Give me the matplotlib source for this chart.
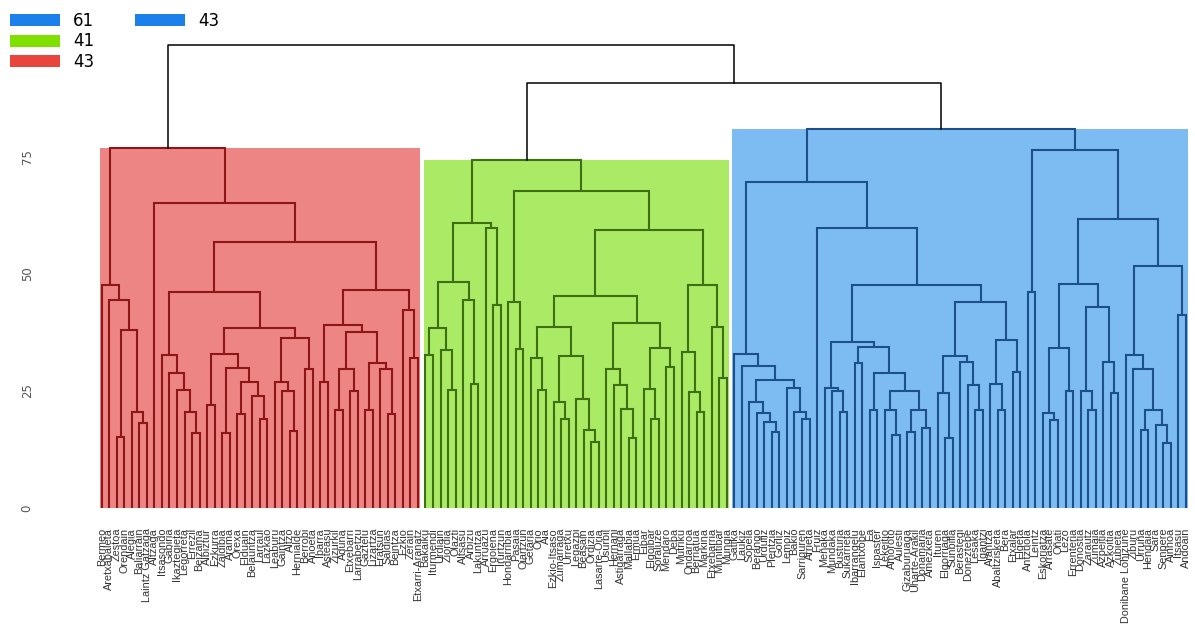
import matplotlib
matplotlib.use("Agg")
import matplotlib.pyplot as plt
from matplotlib.patches import Patch, Rectangle

# Each node is [merge height, left, right]; "L" marks a leaf
red_tree = [76.9,
    [47.6, "L", [44.4, "L", [38.0, [15.2, "L", "L"], [20.5, "L", [18.2, "L", "L"]]]]],
    [65.1, "L",
        [56.9,
            [46.2,
                [32.7, "L", [28.8, "L", [25.2, "L", [20.5, "L", [16.0, "L", "L"]]]]],
                [38.4,
                    [33.0, [22.0, "L", "L"],
                        [30.0, [16.0, "L", "L"], [27.0, [20.0, "L", "L"], [24.0, "L", [19.0, "L", "L"]]]]],
                    [36.3, [27.0, "L", [25.0, "L", [16.5, "L", "L"]]], [29.8, "L", "L"]]]],
            [46.6,
                [39.1,
                    [27.0, "L", "L"],
                    [37.7, [29.8, [21.0, "L", "L"], [25.0, "L", "L"]],
                        [31.0, [21.0, "L", "L"], [29.8, "L", [20.0, "L", "L"]]]]],
                [42.3, "L", [32.0, "L", "L"]]]]]]

green_tree = [74.4,
    [60.8,
        [48.2,
            [38.4, [32.7, "L", "L"], [33.8, "L", [25.2, "L", "L"]]],
            [44.4, "L", [26.6, "L", "L"]]],
        [59.8, "L", [43.4, "L", "L"]]],
    [67.8,
        [44.1, "L", [33.9, "L", "L"]],
        [59.4,
            [45.4,
                [38.7,
                    [32.0, "L", [25.2, "L", "L"]],
                    [32.5, [22.7, "L", [19.1, "L", "L"]], [23.4, "L", [16.7, "L", [14.0, "L", "L"]]]]],
                [39.5,
                    [29.8, "L", [26.2, "L", [21.2, "L", [15.0, "L", "L"]]]],
                    [34.1, [25.4, "L", [19.1, "L", "L"]], [30.2, "L", "L"]]]],
            [47.6,
                [33.4, "L", [24.8, "L", [20.5, "L", "L"]]],
                [38.7, "L", [27.7, "L", "L"]]]]]]

blue_tree = [80.9,
    [69.6,
        [33.0, "L", [30.4, "L", [27.4,
            [22.7, "L", [20.3, "L", [18.3, "L", [16.2, "L", "L"]]]],
            [25.6, "L", [20.5, "L", [19.0, "L", "L"]]]]]],
        [59.8, "L",
            [47.6,
                [35.5,
                    [25.6, "L", [24.9, "L", [20.5, "L", "L"]]],
                    [34.5, [31.0, "L", "L"],
                        [28.8, [20.9, "L", "L"],
                            [25.0, [20.9, "L", [15.7, "L", "L"]],
                                [20.9, [16.3, "L", "L"], [17.2, "L", "L"]]]]]],
                [44.1,
                    [32.5, [24.6, "L", [15.0, "L", "L"]], [31.3, "L", [26.3, "L", [20.9, "L", "L"]]]],
                    [35.9, [26.5, "L", [20.9, "L", "L"]], [29.1, "L", "L"]]]]]],
    [76.6,
        [46.2, "L", "L"],
        [61.8,
            [47.9,
                [34.1, [20.2, "L", [18.8, "L", "L"]], [24.9, "L", "L"]],
                [43.0, [24.9, "L", [20.9, "L", "L"]], [31.3, "L", [24.6, "L", "L"]]]],
            [51.8,
                [32.7, "L", [29.8, "L", [20.9, [16.6, "L", "L"], [17.8, "L", [13.9, "L", "L"]]]]],
                [41.2, "L", "L"]]]]]

# joins between the clusters
root_height = 98.9
green_blue_height = 90.8

leaf_labels = [
    "Bermeo", "Aretxabaleta", "Zestoa", "Orendain", "Alegia", "Baliarrain", "Laintz Gatzaga",
    "Altzaga", "Itsasondo", "Gabiria", "Ikaztegieta", "Legorreta", "Errezil", "Beizama",
    "Albiztur", "Ezkurra", "Zaldibia", "Arama", "Orexa", "Elduain", "Belauntza", "Larraul",
    "Lazkao", "Leaburu", "Gaintza", "Altzo", "Hernialde", "Berrobi", "Anoeta", "Ibarra",
    "Asteasu", "Zizurkil", "Aduna", "Etxebarri", "Larrabetzu", "Gaztelu", "Lizartza",
    "Eratsun", "Saldias", "Beintza", "Ezkio", "Zerain", "Etxarri-Aranatz",
    "Bakaiku", "Iturmendi", "Urdiain", "Ziordia", "Olazti", "Altsasu", "Arbizu", "Lakuntza",
    "Arruazu", "Ergoiena", "Irurtzun", "Hondarribia", "Pasaia", "Oiartzun", "Getaria", "Orio",
    "Aia", "Ezkio-Itsaso", "Zumarraga", "Urretxu", "Legazpi", "Beasain", "Ordizia",
    "Lasarte-Oria", "Usurbil", "Hernani", "Astigarraga", "Mallabia", "Ermua", "Eibar",
    "Elgoibar", "Soraluze", "Mendaro", "Deba", "Mutriku", "Ondarroa", "Berriatua", "Markina",
    "Etxebarria", "Munitibar", "Mungia",
    "Gatika", "Laukiz", "Sopela", "Berango", "Urduliz", "Plentzia", "Gorliz", "Lemoiz", "Bakio",
    "Sarriguren", "Arrieta", "Fruiz", "Meñaka", "Mundaka", "Busturia", "Sukarrieta",
    "Ibarrangelu", "Elantxobe", "Ea", "Ispaster", "Lekeitio", "Amoroto", "Aulesti",
    "Gizaburuaga", "Uharte-Arakil", "Donamaria", "Amezketa", "Ituren", "Elgorriaga", "Sunbilla",
    "Berastegi", "Doneztebe", "Lesaka", "Igantzi", "Arantza", "Abaltzisketa", "Bera", "Etxalar",
    "Elgeta", "Antzuola", "Leintz", "Eskoriatza", "Arrasate", "Oñati", "Lezo", "Errenteria",
    "Donostia", "Zarautz", "Zumaia", "Azpeitia", "Azkoitia", "Zubieta", "Donibane Lohizune",
    "Ziburu", "Urruña", "Hendaia", "Sara", "Senpere", "Ainhoa", "Itsasu", "Andoain",
]

legend_sizes = ["61", "41", "43"]
legend_extra = ["43"]

fill_colors = {"red": "#ED8585", "green": "#AAEA64", "blue": "#7DBBF3"}
line_colors = {"red": "#8E1616", "green": "#3E7012", "blue": "#1D4F8A"}
legend_colors = {"red": "#E8453C", "green": "#80E000", "blue": "#1C80EA"}

fig = plt.figure(figsize=(11.95, 6.25), dpi=100)
ax = fig.add_axes([42 / 1195, 1 - 512.7 / 625, 1 - 42 / 1195, (512.7 - 30) / 625])

counter = [0]


def draw(node, color, lw):
    # returns (x centre, height) of the node after drawing its branches
    if node == "L":
        x = counter[0]
        counter[0] += 1
        return x, 0.0
    h, left, right = node
    xl, hl = draw(left, color, lw)
    xr, hr = draw(right, color, lw)
    ax.plot([xl, xl, xr, xr], [hl, h, h, hr], color=color, lw=lw,
            solid_capstyle="butt", solid_joinstyle="miter", zorder=3)
    return (xl + xr) / 2, h


tops = []
for name, tree in [("red", red_tree), ("green", green_tree), ("blue", blue_tree)]:
    start = counter[0]
    xc, h = draw(tree, line_colors[name], 1.5)
    end = counter[0] - 1
    ax.add_patch(Rectangle((start - 0.25, 0), end - start + 0.5, h,
                           facecolor=fill_colors[name], edgecolor="none", zorder=1))
    tops.append((xc, h))

# black links joining the clusters
(xr, hr), (xg, hg), (xb, hb) = tops
ax.plot([xg, xg, xb, xb], [hg, green_blue_height, green_blue_height, hb],
        color="black", lw=1.1, zorder=3)
xgb = (xg + xb) / 2
ax.plot([xr, xr, xgb, xgb], [hr, root_height, root_height, green_blue_height],
        color="black", lw=1.1, zorder=3)

n = counter[0]
ax.set_xlim((42 - 101.7) / 7.53, (1195 - 101.7) / 7.53)
ax.set_ylim(-1, (508 - 30) / 4.68)
ax.set_xticks(range(n))
ax.set_xticklabels(leaf_labels[:n], rotation=90, fontsize=7.8, color="#333333",
                   family=["Liberation Sans Narrow", "Liberation Sans", "DejaVu Sans"])
ax.set_yticks([0, 25, 50, 75])
ax.set_yticklabels(["0", "25", "50", "75"], rotation=90, va="center",
                   fontsize=8.5, color="#555555")
ax.tick_params(axis="x", length=0, pad=11)
ax.tick_params(axis="y", length=0, pad=6)
for s in ax.spines.values():
    s.set_visible(False)

handles = [Patch(facecolor=legend_colors[c]) for c in ["blue", "green", "red"]]
fig.legend(handles, legend_sizes, loc="upper left", bbox_to_anchor=(10 / 1195, 1 - 12 / 625),
           frameon=False, fontsize=12, handlelength=3.0, handleheight=0.7,
           labelspacing=0.15, borderpad=0, borderaxespad=0, handletextpad=0.8)
fig.legend([Patch(facecolor=legend_colors["blue"])], legend_extra, loc="upper left",
           bbox_to_anchor=(135 / 1195, 1 - 12 / 625), frameon=False, fontsize=12,
           handlelength=3.0, handleheight=0.7, borderpad=0, borderaxespad=0,
           handletextpad=0.8)

fig.savefig("out.png", dpi=100)
